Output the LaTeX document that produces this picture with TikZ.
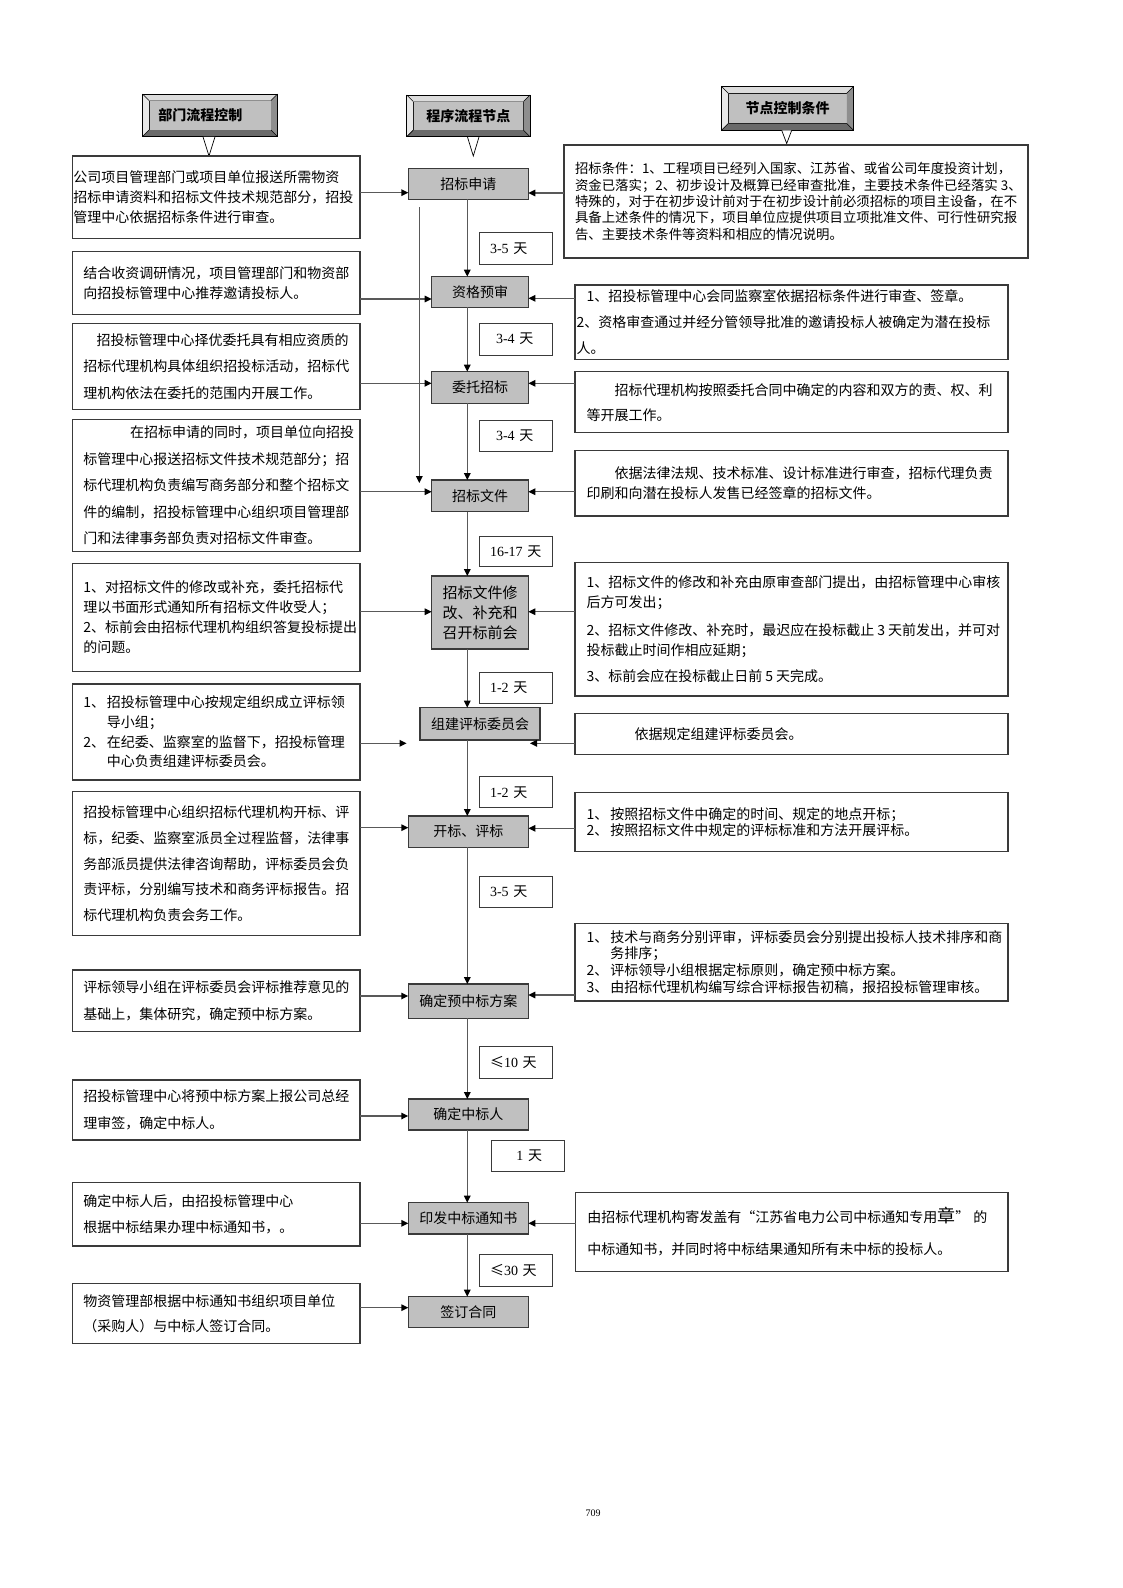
\documentclass[tikz,border=0pt]{standalone}
\usepackage{fontspec}
\setmainfont{Liberation Serif}
\newfontfamily\cjk{Noto Sans CJK SC}
\usetikzlibrary{arrows.meta,calc}
\definecolor{nodefill}{HTML}{C0C0C0}
\definecolor{linec}{HTML}{595959}
\definecolor{bordc}{HTML}{3A3A3A}
\definecolor{bevtop}{HTML}{DCDCDC}
\definecolor{bevleft}{HTML}{E8E8E8}
\definecolor{bevright}{HTML}{8E8E8E}
\definecolor{bevbot}{HTML}{6A6A6A}
\newcommand\bevelframe[1]{%
  \coordinate (#1o1) at ($(#1.north west)+(-6.5,-6.5)$);
  \coordinate (#1o2) at ($(#1.north east)+(6.5,-6.5)$);
  \coordinate (#1o3) at ($(#1.south east)+(6.5,6.5)$);
  \coordinate (#1o4) at ($(#1.south west)+(-6.5,6.5)$);
  \fill[bevtop] (#1o1) -- (#1o2) -- (#1.north east) -- (#1.north west) -- cycle;
  \fill[bevleft] (#1o1) -- (#1.north west) -- (#1.south west) -- (#1o4) -- cycle;
  \fill[bevright] (#1o2) -- (#1o3) -- (#1.south east) -- (#1.north east) -- cycle;
  \fill[bevbot] (#1o4) -- (#1.south west) -- (#1.south east) -- (#1o3) -- cycle;
  \draw[black, line width=0.8pt] (#1o1) rectangle (#1o3);
  \draw[black, line width=0.6pt] (#1o1) -- (#1.north west) (#1o2) -- (#1.north east)
     (#1o3) -- (#1.south east) (#1o4) -- (#1.south west);
}
\begin{document}
\begin{tikzpicture}[x=1pt,y=-1pt,
  conn/.style={draw=linec, line width=1.4pt},
  arr/.style={conn, -{Triangle[length=7pt,width=6.5pt,color=black]}},
  tbox/.style={draw=bordc, line width=1.2pt, fill=white, anchor=north west,
     inner ysep=0pt, outer sep=0pt, align=left, font=\cjk\fontsize{14}{26.5}\selectfont},
  lb/.style={tbox, inner xsep=11pt, text width=265.7pt, minimum height=#1},
  rb/.style={tbox, inner xsep=11.7pt, text width=409.6pt, minimum height=#1},
  dbox/.style={draw=bordc, line width=1pt, fill=white, anchor=north west, outer sep=0pt,
     inner xsep=10.7pt, inner ysep=0pt, text width=52pt, align=left, minimum height=#1,
     font=\fontsize{14}{16}\selectfont},
  flow/.style={draw=bordc, line width=1.2pt, fill=nodefill, outer sep=0pt, inner sep=0pt,
     align=center, font=\cjk\fontsize{14}{20}\selectfont},
  hdr/.style={draw=black, line width=0.6pt, fill=nodefill, outer sep=0pt, inner sep=0pt,
     font=\cjk\bfseries\fontsize{14}{16}\selectfont},
  ptr/.style={fill=white, draw=black, line width=0.7pt}
]
\useasboundingbox (0,0) rectangle (1123,1588);
\fill[white] (0,0) rectangle (1123,1588);

% ---------- headers ----------
\node[hdr, minimum width=122pt, minimum height=29.5pt, text width=103.4pt, align=left,
      inner xsep=9.3pt] (h1) at (210,115.25) {部门流程控制};
\bevelframe{h1}
\node[hdr, minimum width=110.3pt, minimum height=28.7pt] (h2) at (468.35,115.85) {程序流程节点};
\bevelframe{h2}
\node[hdr, minimum width=118.6pt, minimum height=30.3pt] (h3) at (787.5,108.35) {节点控制条件};
\bevelframe{h3}
\filldraw[ptr] (203,136.8) -- (209,156) -- (215,136.8);
\filldraw[ptr] (467.5,137) -- (473.3,156) -- (479,137);
\filldraw[ptr] (781.7,130.3) -- (786.7,143.5) -- (791.7,130.3);

% ---------- flow nodes ----------
\node[flow, minimum width=120pt, minimum height=31pt] (n1) at (468.3,183.8) {招标申请};
\node[flow, minimum width=96.6pt, minimum height=30.6pt] (n2) at (480,292) {资格预审};
\node[flow, minimum width=96.6pt, minimum height=31.6pt] (n3) at (480,387.5) {委托招标};
\node[flow, minimum width=96.6pt, minimum height=31.7pt] (n4) at (480,495.85) {招标文件};
\node[flow, minimum width=96.6pt, minimum height=73pt, font=\cjk\fontsize{15}{20}\selectfont]
     (n5) at (480,612.5) {招标文件修\\改、补充和\\召开标前会};
\node[flow, minimum width=120pt, minimum height=32.3pt] (n6) at (480,723.85) {组建评标委员会};
\node[flow, minimum width=120pt, minimum height=31.3pt] (n7) at (468.3,831.65) {开标、评标};
\node[flow, minimum width=120pt, minimum height=34.3pt] (n8) at (468.3,1001.15) {确定预中标方案};
\node[flow, minimum width=120pt, minimum height=31pt] (n9) at (468.3,1114.5) {确定中标人};
\node[flow, minimum width=120pt, minimum height=31.3pt] (n10) at (468.3,1218.35) {印发中标通知书};
\node[flow, minimum width=120pt, minimum height=31pt] (n11) at (468.3,1312.2) {签订合同};

% ---------- duration boxes ----------
\node[dbox=31.6pt] (d1) at (479.3,232.7) {3-5 {\cjk 天}};
\node[dbox=31.7pt] (d2) at (479.3,323.3) {\hspace*{6pt}3-4 {\cjk 天}};
\node[dbox=31.7pt] (d3) at (479.3,420) {\hspace*{6pt}3-4 {\cjk 天}};
\node[dbox=30pt] (d4) at (479.3,536.7) {16-17 {\cjk 天}};
\node[dbox=31pt] (d5) at (479.3,672.3) {1-2 {\cjk 天}};
\node[dbox=31pt] (d6) at (479.3,776.7) {1-2 {\cjk 天}};
\node[dbox=31.3pt] (d7) at (479.3,876) {3-5 {\cjk 天}};
\node[dbox=31.6pt] (d8) at (479.3,1046.7) {{\cjk ≤}10 {\cjk 天}};
\node[dbox=31.7pt, text width=50.9pt] (d9) at (491.7,1140) {\hspace*{14pt}1 {\cjk 天}};
\node[dbox=31.7pt] (d10) at (479.3,1254.3) {{\cjk ≤}30 {\cjk 天}};

% ---------- left boxes ----------
\node[lb=82.3pt, inner xsep=1pt, text width=285.7pt, font=\cjk\fontsize{14}{20}\selectfont] (L1) at (72.3,156)
 {公司项目管理部门或项目单位报送所需物资\\招标申请资料和招标文件技术规范部分，招投\\管理中心依据招标条件进行审查。};
\node[lb=62.8pt, font=\cjk\fontsize{14}{20}\selectfont] (L2) at (72.3,251.7)
 {结合收资调研情况，项目管理部门和物资部\\向招投标管理中心推荐邀请投标人。};
\node[lb=86pt] (L3) at (72.3,323.3)
 {\hspace*{13.4pt}招投标管理中心择优委托具有相应资质的\\招标代理机构具体组织招投标活动，招标代\\理机构依法在委托的范围内开展工作。};
\node[lb=132.4pt] (L4) at (72.3,419.3)
 {\hspace*{46.7pt}在招标申请的同时，项目单位向招投\\标管理中心报送招标文件技术规范部分；招\\标代理机构负责编写商务部分和整个招标文\\件的编制，招投标管理中心组织项目管理部\\门和法律事务部负责对招标文件审查。\par\vspace{-10pt}};
\node[lb=108.4pt, font=\cjk\fontsize{14}{20}\selectfont] (L5) at (72.3,563.3)
 {1、对招标文件的修改或补充，委托招标代\\理以书面形式通知所有招标文件收受人；\\2、标前会由招标代理机构组织答复投标提出\\的问题。};
\node[lb=96pt, font=\cjk\fontsize{14}{19.7}\selectfont] (L6) at (72.3,684)
 {\makebox[23.5pt][l]{1、}招投标管理中心按规定组织成立评标领\\\hspace*{23.5pt}导小组；\\\makebox[23.5pt][l]{2、}在纪委、监察室的监督下，招投标管理\\\hspace*{23.5pt}中心负责组建评标委员会。};
\node[lb=144pt, font=\cjk\fontsize{14}{25.8}\selectfont] (L7) at (72.3,791.7)
 {招投标管理中心组织招标代理机构开标、评\\标，纪委、监察室派员全过程监督，法律事\\务部派员提供法律咨询帮助，评标委员会负\\责评标，分别编写技术和商务评标报告。招\\标代理机构负责会务工作。};
\node[lb=61.7pt] (L8) at (72.3,970)
 {评标领导小组在评标委员会评标推荐意见的\\基础上，集体研究，确定预中标方案。};
\node[lb=60pt] (L9) at (72.3,1080)
 {招投标管理中心将预中标方案上报公司总经\\理审签，确定中标人。};
\node[lb=63.7pt] (L10) at (72.3,1182.3)
 {确定中标人后，由招投标管理中心\\根据中标结果办理中标通知书，。};
\node[lb=60pt, font=\cjk\fontsize{14}{25}\selectfont] (L11) at (72.3,1283.3)
 {物资管理部根据中标通知书组织项目单位\\（采购人）与中标人签订合同。};

% ---------- right boxes ----------
\node[tbox, inner xsep=11pt, text width=442pt, minimum height=113pt,
      font=\cjk\fontsize{13.4}{16.3}\selectfont] (R1) at (564,145)
 {招标条件：1、工程项目已经列入国家、江苏省、或省公司年度投资计划，\\资金已落实；2、初步设计及概算已经审查批准，主要技术条件已经落实\kern3pt 3、\\特殊的，对于在初步设计前对于在初步设计前必须招标的项目主设备，在不\\具备上述条件的情况下，项目单位应提供项目立项批准文件、可行性研究报\\告、主要技术条件等资料和相应的情况说明。\par\vspace{18pt}};
\node[rb=74.3pt, font=\cjk\fontsize{14}{26}\selectfont] (R2) at (575,285)
 {1、招投标管理中心会同监察室依据招标条件进行审查、签章。\\\hspace*{-10pt}2、资格审查通过并经分管领导批准的邀请投标人被确定为潜在投标\\\hspace*{-10pt}人。};
\node[rb=61pt, font=\cjk\fontsize{14}{25}\selectfont] (R3) at (575,371.7)
 {\hspace*{28pt}招标代理机构按照委托合同中确定的内容和双方的责、权、利\\等开展工作。};
\node[rb=65.3pt, font=\cjk\fontsize{14}{20}\selectfont] (R4) at (575,450.7)
 {\hspace*{28pt}依据法律法规、技术标准、设计标准进行审查，招标代理负责\\印刷和向潜在投标人发售已经签章的招标文件。\par\vspace{-16pt}};
\node[rb=133.3pt, font=\cjk\fontsize{14}{20}\selectfont] (R5) at (575,562.7)
 {1、招标文件的修改和补充由原审查部门提出，由招标管理中心审核\\后方可发出；\\[7.5pt]2、招标文件修改、补充时，最迟应在投标截止\kern3pt 3\kern3pt 天前发出，并可对\\投标截止时间作相应延期；\\[6.5pt]3、标前会应在投标截止日前\kern3pt 5\kern3pt 天完成。};
\node[rb=41pt] (R6) at (575,713.3)
 {\hspace*{48pt}依据规定组建评标委员会。};
\node[rb=59.4pt, font=\cjk\fontsize{14}{15.8}\selectfont] (R7) at (575,792.3)
 {\makebox[23.7pt][l]{1、}按照招标文件中确定的时间、规定的地点开标；\\\makebox[23.7pt][l]{2、}按照招标文件中规定的评标标准和方法开展评标。};
\node[rb=77.7pt, font=\cjk\fontsize{14}{16.7}\selectfont] (R8) at (575,923.3)
 {\makebox[23.7pt][l]{1、}技术与商务分别评审，评标委员会分别提出投标人技术排序和商\\\hspace*{23.7pt}务排序；\\\makebox[23.7pt][l]{2、}评标领导小组根据定标原则，确定预中标方案。\\\makebox[23.7pt][l]{3、}由招标代理机构编写综合评标报告初稿，报招投标管理审核。};
\node[rb=79.4pt, text width=408.9pt, font=\cjk\fontsize{14}{32}\selectfont] (R9) at (575.7,1192.3)
 {由招标代理机构寄发盖有“江苏省电力公司中标通知专用{\fontsize{18}{20}\selectfont 章}”\kern4pt 的\\中标通知书，并同时将中标结果通知所有未中标的投标人。};

% ---------- connectors ----------
\coordinate (vx) at (467.3,0);
\coordinate (lx) at (419.3,0);
\foreach \a/\b in {n1/n2,n2/n3,n3/n4,n4/n5,n5/n6,n6/n7,n7/n8,n8/n9,n9/n10,n10/n11}
  \draw[arr] (\a.south -| vx) -- (\b.north -| vx);
\coordinate (ls) at ($(n1.south -| lx)+(0,8)$);
\coordinate (le) at ($(n4.north -| lx)+(0,3)$);
\draw[arr] (ls) -- (le);

\foreach \i/\y in {1/192.7,2/299,3/383.3,4/491.7,5/611.7,7/827.7,8/996,9/1116,10/1223.3,11/1307.7}
  \coordinate (ya\i) at (0,\y);
\foreach \i in {1,2,3,4,5,7,8,9,10,11}
  \draw[arr] (L\i.east |- ya\i) -- (n\i.west |- ya\i);
\coordinate (e6l) at (406.7,743.3);
\draw[arr] (L6.east |- e6l) -- (e6l);

\foreach \i/\y in {1/193,2/298.3,3/383.3,4/491.7,5/611.7,7/828.3,8/995}
  \coordinate (yb\i) at (0,\y);
\foreach \i in {1,2,3,4,5,7,8}
  \draw[arr] (R\i.west |- yb\i) -- (n\i.east |- yb\i);
\coordinate (e6r) at (530,743.3);
\draw[arr] (R6.west |- e6r) -- (e6r);
\coordinate (yb9) at (0,1223.3);
\draw[arr] (R9.west |- yb9) -- (n10.east |- yb9);

% ---------- page number ----------
\node[font=\fontsize{10}{12}\selectfont] (pg) at (593,1513) {709};
\end{tikzpicture}
\end{document}
